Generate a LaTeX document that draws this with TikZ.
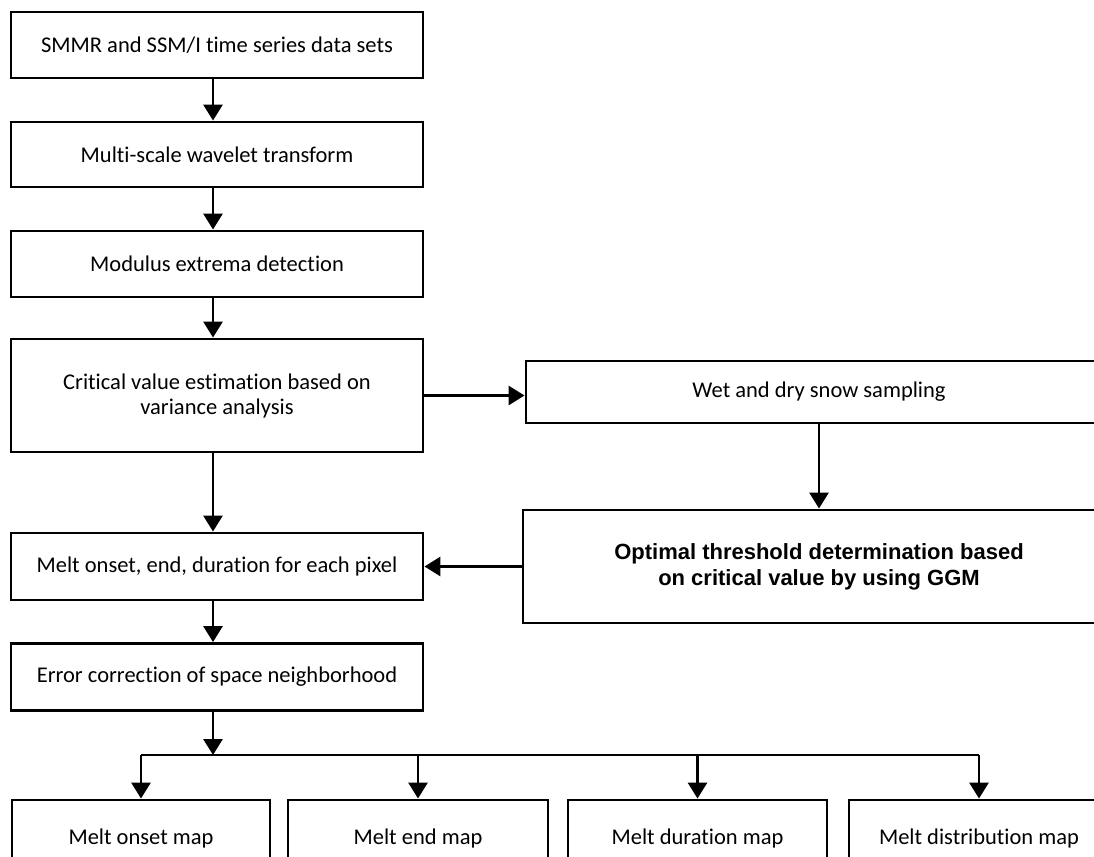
\documentclass[tikz,border=0pt]{standalone}
\usepackage{fontspec}
\setmainfont[Ligatures=NoCommon]{Carlito}
\newfontfamily\boldarial{Liberation Sans}
\usetikzlibrary{arrows.meta}
\begin{document}
\begin{tikzpicture}[x=1pt,y=-1pt,
  box/.style={draw, line width=2.9pt, rectangle, inner sep=0pt, align=center,
    font=\fontsize{22.5}{25}\selectfont},
  arr/.style={line width=2.9pt, -{Triangle[length=16pt,width=19pt]}},
  ln/.style={line width=2.9pt}]
\useasboundingbox[fill=white] (0,0) rectangle (1094,856);
\clip (0,0) rectangle (1094,856);
\node[box, minimum width=412, minimum height=66] (b1) at (217,45) {SMMR and SSM/I time series data sets};
\node[box, minimum width=412, minimum height=65] (b2) at (217,154.5) {Multi-scale wavelet transform};
\node[box, minimum width=412, minimum height=66] (b3) at (217,264) {Modulus extrema detection};
\node[box, minimum width=412, minimum height=113] (b4) at (217,395.5) {Critical value estimation based on\\variance analysis};
\node[box, minimum width=586, minimum height=62] (b5) at (819,392) {Wet and dry snow sampling};
\node[box, minimum width=592, minimum height=113, font=\boldarial\bfseries\fontsize{22}{26}\selectfont] (b6) at (819,566.5) {Optimal threshold determination based\\on critical value by using GGM};
\node[box, minimum width=412, minimum height=67] (b7) at (217,566.5) {Melt onset, end, duration for each pixel};
\node[box, minimum width=412, minimum height=67] (b8) at (217,677) {Error correction of space neighborhood};
\node[box, minimum width=258, minimum height=76] (m1) at (141,838) {Melt onset map};
\node[box, minimum width=260, minimum height=76] (m2) at (418,838) {Melt end map};
\node[box, minimum width=259, minimum height=76] (m3) at (697.5,838) {Melt duration map};
\node[box, minimum width=260, minimum height=76] (m4) at (979,838) {Melt distribution map};

\draw[arr] ([xshift=-4pt]b1.south) -- ([xshift=-4pt]b2.north);
\draw[arr] ([xshift=-4pt]b2.south) -- ([xshift=-4pt]b3.north);
\draw[arr] ([xshift=-4pt]b3.south) -- ([xshift=-4pt]b4.north);
\draw[arr] ([xshift=-4pt]b4.south) -- ([xshift=-4pt]b4.south |- b7.north);
\draw[arr] (b4.east) -- (b4.east -| b5.west);
\draw[arr] (b5.south) -- (b6.north);
\draw[arr] (b6.west) -- (b6.west -| b7.east);
\draw[arr] ([xshift=-4pt]b7.south) -- ([xshift=-4pt]b8.north);
\coordinate (j) at (213,755);
\draw[arr] ([xshift=-4pt]b8.south) -- (j);
\draw[ln] (j -| m1.north) -- (j -| m4.north);
\draw[arr] (j -| m1.north) -- (m1.north);
\draw[arr] (j -| m2.north) -- (m2.north);
\draw[arr] (j -| m3.north) -- (m3.north);
\draw[arr] (j -| m4.north) -- (m4.north);
\end{tikzpicture}
\end{document}
